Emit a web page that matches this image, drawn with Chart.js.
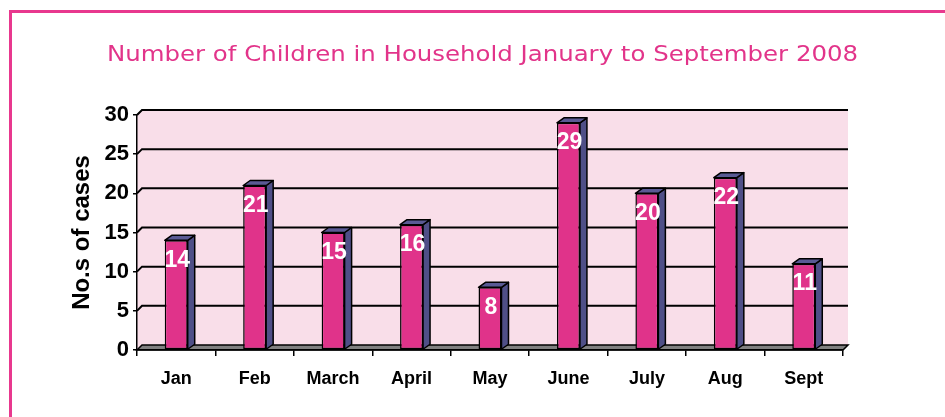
<!DOCTYPE html>
<html>
<head>
<meta charset="utf-8">
<script src="https://cdn.jsdelivr.net/npm/chart.js@4"></script>
<style>
  html, body { margin: 0; padding: 0; background: #ffffff; overflow: hidden; width: 945px; height: 417px; }
  #frame { position: absolute; left: 9px; top: 10px; width: 1000px; height: 500px; border: 3px solid #e8388e; box-sizing: border-box; }
  #c { position: absolute; left: 0; top: 0; z-index: 2; }
</style>
</head>
<body>
<div id="frame"></div>
<canvas id="c" width="945" height="417"></canvas>
<script>
const categories = ['Jan', 'Feb', 'March', 'April', 'May', 'June', 'July', 'Aug', 'Sept'];
const cases = [14, 21, 15, 16, 8, 29, 20, 22, 11];
const yTickValues = [0, 5, 10, 15, 20, 25, 30];
const chartTitle = 'Number of Children in Household January to September 2008';
const yTitle = 'No.s of cases';

const WALL_DX = 5, WALL_DY = 5;
const BAR_DX = 7, BAR_DY = 5;

const wall3d = {
  id: 'wall3d',
  beforeDraw(chart) {
    const { ctx, chartArea: { left, right, top, bottom }, scales: { y } } = chart;
    ctx.save();
    ctx.fillStyle = '#f9dee9';
    // back wall
    ctx.fillRect(left + WALL_DX, top - WALL_DY, (right - left), (bottom - top));
    // left wall
    ctx.beginPath();
    ctx.moveTo(left, top);
    ctx.lineTo(left + WALL_DX, top - WALL_DY);
    ctx.lineTo(left + WALL_DX, bottom - WALL_DY);
    ctx.lineTo(left, bottom);
    ctx.closePath();
    ctx.fill();
    // gridlines
    ctx.strokeStyle = '#000';
    ctx.lineWidth = 2;
    y.ticks.forEach(t => {
      if (t.value === 0) return;
      const yy = y.getPixelForValue(t.value);
      ctx.beginPath();
      ctx.moveTo(left, yy);
      ctx.lineTo(left + WALL_DX, yy - WALL_DY);
      ctx.lineTo(right + WALL_DX, yy - WALL_DY);
      ctx.stroke();
    });
    // floor
    ctx.beginPath();
    ctx.moveTo(left, bottom);
    ctx.lineTo(left + WALL_DX, bottom - WALL_DY);
    ctx.lineTo(right + WALL_DX, bottom - WALL_DY);
    ctx.lineTo(right, bottom);
    ctx.closePath();
    ctx.fillStyle = '#808080';
    ctx.fill();
    ctx.lineWidth = 1.5;
    ctx.stroke();
    ctx.restore();
  },
  afterDatasetsDraw(chart) {
    const { ctx } = chart;
    const meta = chart.getDatasetMeta(0);
    ctx.save();
    ctx.lineWidth = 1.5;
    ctx.strokeStyle = '#000';
    ctx.lineJoin = 'round';
    meta.data.forEach((el, i) => {
      const { x, y, base, width } = el.getProps(['x', 'y', 'base', 'width'], true);
      const l = x - width / 2, r = x + width / 2;
      // side face
      ctx.beginPath();
      ctx.moveTo(r, y);
      ctx.lineTo(r + BAR_DX, y - BAR_DY);
      ctx.lineTo(r + BAR_DX, base - BAR_DY);
      ctx.lineTo(r, base);
      ctx.closePath();
      ctx.fillStyle = '#4f4f87';
      ctx.fill();
      ctx.stroke();
      // top face
      ctx.beginPath();
      ctx.moveTo(l, y);
      ctx.lineTo(l + BAR_DX, y - BAR_DY);
      ctx.lineTo(r + BAR_DX, y - BAR_DY);
      ctx.lineTo(r, y);
      ctx.closePath();
      ctx.fillStyle = '#5a5a94';
      ctx.fill();
      ctx.stroke();
      // value label
      ctx.fillStyle = '#ffffff';
      ctx.font = 'bold 23px "Liberation Sans", Arial, sans-serif';
      ctx.textAlign = 'center';
      ctx.textBaseline = 'middle';
      ctx.fillText(String(cases[i]), x + 1, y + 20);
    });
    ctx.restore();
  },
  afterDraw(chart) {
    const { ctx } = chart;
    ctx.save();
    ctx.translate(482.5, 61);
    ctx.scale(1.11, 1);
    ctx.fillStyle = '#e2348a';
    ctx.font = '22px "DejaVu Sans", sans-serif';
    ctx.textAlign = 'center';
    ctx.textBaseline = 'alphabetic';
    ctx.fillText(chartTitle, 0, 0);
    ctx.restore();
  }
};

new Chart(document.getElementById('c'), {
  type: 'bar',
  data: {
    labels: categories,
    datasets: [{
      data: cases,
      backgroundColor: '#e0338a',
      borderColor: '#000000',
      borderWidth: 1.5,
      borderSkipped: false,
      barPercentage: 0.293,
      categoryPercentage: 1
    }]
  },
  options: {
    responsive: false,
    animation: false,
    devicePixelRatio: 1,
    layout: { padding: { left: 60, right: 102, top: 115, bottom: 0 } },
    plugins: {
      legend: { display: false },
      tooltip: { enabled: false },
      title: { display: false }
    },
    scales: {
      x: {
        grid: { display: true, drawOnChartArea: false, drawTicks: true, tickLength: 6, color: '#000', lineWidth: 1.5, offset: true },
        border: { display: true, color: '#000', width: 1.5 },
        ticks: { color: '#000', font: { family: '"Liberation Sans", Arial, sans-serif', size: 18, weight: 'bold' }, padding: 12, maxRotation: 0 },
        afterFit: s => { s.height = 67; }
      },
      y: {
        min: 0,
        max: 30,
        afterBuildTicks: s => { s.ticks = yTickValues.map(v => ({ value: v })); },
        grid: { display: true, drawOnChartArea: false, drawTicks: true, tickLength: 4, color: '#000', lineWidth: 1.5 },
        border: { display: true, color: '#000', width: 1.5 },
        ticks: { color: '#000', font: { family: '"Liberation Sans", Arial, sans-serif', size: 22, weight: 'bold' }, padding: 4 },
        title: {
          display: true,
          text: yTitle,
          color: '#000',
          font: { family: '"Liberation Sans", Arial, sans-serif', size: 24, weight: 'bold', lineHeight: 1.2 },
          padding: { top: 8, bottom: 0 }
        },
        afterFit: s => { s.width = 77; }
      }
    }
  },
  plugins: [wall3d]
});
</script>
</body>
</html>
